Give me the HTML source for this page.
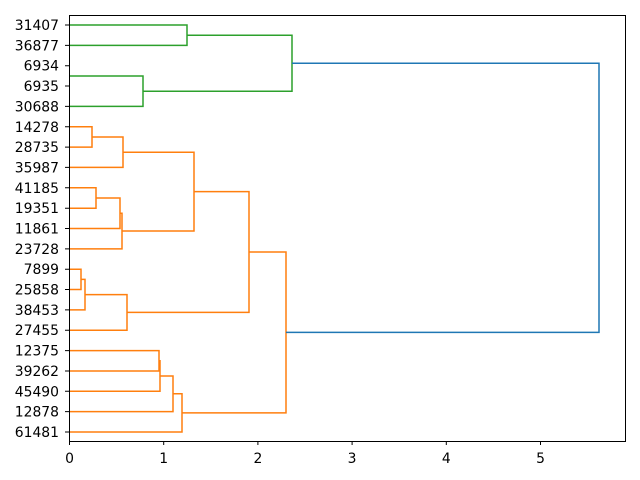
<!DOCTYPE html>
<html><head><style>body{margin:0;background:#fff}svg{display:block}</style></head><body>
<svg width="640" height="480" xmlns="http://www.w3.org/2000/svg" font-family="DejaVu Sans, Liberation Sans, sans-serif" font-size="13.9">
<g fill="none" stroke-width="1.5">
<g stroke="#2ca02c">
<path d="M69,25 H187 V45.4 H69"/>
<path d="M69,76 H143 V106.4 H69"/>
<path d="M187,35.2 H292 V91.2 H143"/>
</g>
<g stroke="#ff7f0e">
<path d="M69,126.8 H92 V147.1 H69"/>
<path d="M92,137 H123 V167.4 H69"/>
<path d="M69,187.8 H96 V208.2 H69"/>
<path d="M96,198 H120 V228.5 H69"/>
<path d="M120,213.2 H122 V248.9 H69"/>
<path d="M123,152.2 H194 V231 H122"/>
<path d="M69,269.2 H81 V289.5 H69"/>
<path d="M81,279.4 H85 V309.9 H69"/>
<path d="M85,294.6 H127 V330.2 H69"/>
<path d="M194,191.6 H249 V312.4 H127"/>
<path d="M69,350.6 H159 V371 H69"/>
<path d="M159,360.8 H160 V391.3 H69"/>
<path d="M160,376 H173 V411.6 H69"/>
<path d="M173,393.8 H182 V432 H69"/>
<path d="M249,252 H286 V412.9 H182"/>
</g>
<path stroke="#1f77b4" d="M292,63.2 H599 V332.4 H286"/>
</g>
<rect x="69.5" y="15.5" width="556" height="426" fill="none" stroke="#000" stroke-width="1"/>
<g stroke="#000">
<path d="M69.5,441 v4 M163.7,441 v4 M257.9,441 v4 M352.1,441 v4 M446.3,441 v4 M540.5,441 v4"/>
<path d="M69,25 h-4 M69,45.4 h-4 M69,65.7 h-4 M69,86 h-4 M69,106.4 h-4 M69,126.8 h-4 M69,147.1 h-4 M69,167.4 h-4 M69,187.8 h-4 M69,208.2 h-4 M69,228.5 h-4 M69,248.9 h-4 M69,269.2 h-4 M69,289.5 h-4 M69,309.9 h-4 M69,330.2 h-4 M69,350.6 h-4 M69,371 h-4 M69,391.3 h-4 M69,411.6 h-4 M69,432 h-4"/>
</g>
<g text-anchor="middle">
<text x="69.5" y="463">0</text><text x="163.7" y="463">1</text><text x="257.9" y="463">2</text><text x="352.1" y="463">3</text><text x="446.3" y="463">4</text><text x="540.5" y="463">5</text>
</g>
<g text-anchor="end">
<text x="59" y="30">31407</text><text x="59" y="50.4">36877</text><text x="59" y="70.7">6934</text><text x="59" y="91">6935</text><text x="59" y="111.4">30688</text><text x="59" y="131.8">14278</text><text x="59" y="152.1">28735</text><text x="59" y="172.4">35987</text><text x="59" y="192.8">41185</text><text x="59" y="213.2">19351</text><text x="59" y="233.5">11861</text><text x="59" y="253.9">23728</text><text x="59" y="274.2">7899</text><text x="59" y="294.5">25858</text><text x="59" y="314.9">38453</text><text x="59" y="335.2">27455</text><text x="59" y="355.6">12375</text><text x="59" y="376">39262</text><text x="59" y="396.3">45490</text><text x="59" y="416.6">12878</text><text x="59" y="437">61481</text>
</g>
</svg>
</body></html>
